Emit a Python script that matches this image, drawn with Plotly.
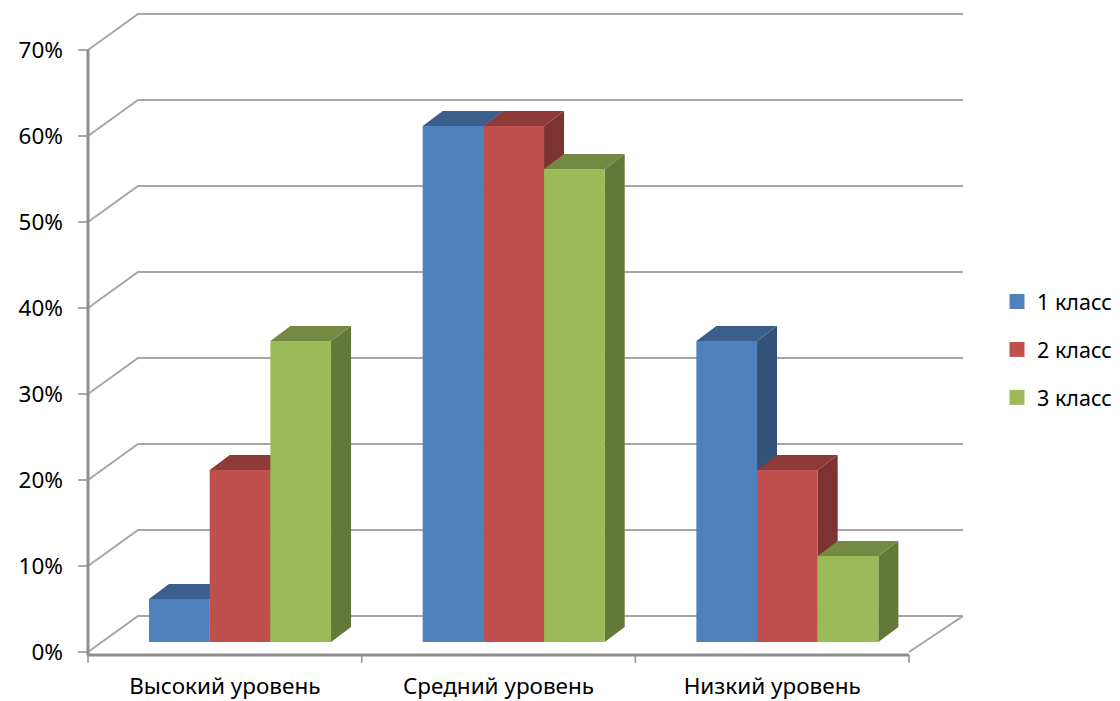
import plotly.graph_objects as go

categories = ["Высокий уровень", "Средний уровень", "Низкий уровень"]
series_names = ["1 класс", "2 класс", "3 класс"]
class1 = [5, 60, 35]
class2 = [20, 60, 20]
class3 = [35, 55, 10]
y_ticks = [0, 10, 20, 30, 40, 50, 60, 70]
y_labels = ["0%", "10%", "20%", "30%", "40%", "50%", "60%", "70%"]
front_colors = ["#4F81BD", "#C0504D", "#9BBB59"]
top_colors = ["#3B5F8C", "#8E3A38", "#728A41"]
side_colors = ["#33537A", "#7C3331", "#647839"]

series = [class1, class2, class3]

# Scale: 1 x unit = one category band, 1 y unit = one percent
PX_X = 273.67
PX_Y = 8.6
PAGE = 8  # default page margin round the figure
W, H = 1120 - PAGE, 701 - PAGE
L, R, T, B = 78 - PAGE, 963 - PAGE, 13 - PAGE, 665 - PAGE
ZERO_PX = 652 - PAGE
X0 = -0.5
x_range = [X0 - 10 / PX_X, X0 + 875 / PX_X]
y_range = [-(B - ZERO_PX) / PX_Y, (ZERO_PX - T) / PX_Y]

wall_dx, wall_dy = 50 / PX_X, 36 / PX_Y
bar_w = 60.67 / PX_X
bar_side_dx, bar_side_dy = 20 / PX_X, 15 / PX_Y
bar_base = 10 / PX_Y
group_shift = 15.2 / PX_X
grid_color = "#A6A6A6"
axis_color = "#8E8E8E"

fig = go.Figure()


def line(xs, ys, color, width):
    fig.add_trace(go.Scatter(
        x=xs, y=ys, mode="lines", line=dict(color=color, width=width),
        showlegend=False, hoverinfo="skip", cliponaxis=False))


# walls: gridlines with the diagonal return
for v in y_ticks:
    line([X0, X0 + wall_dx, x_range[1]], [v, v + wall_dy, v + wall_dy], grid_color, 2)
# floor front-right diagonal
line([2.5, x_range[1]], [0, wall_dy], grid_color, 2)
# axis lines and ticks
line([X0, X0], [-0.4, 70], axis_color, 3)
line([X0, 2.5], [-0.35, -0.35], axis_color, 3)
for b in [-0.5, 0.5, 1.5, 2.5]:
    line([b, b], [-0.35, -1.25], axis_color, 1.5)
for v in y_ticks:
    line([x_range[0], X0], [v, v], axis_color, 1.5)

# side and top faces, left to right
for c in range(len(categories)):
    for s, vals in enumerate(series):
        left = c + group_shift + (s - 1.5) * bar_w
        right = left + bar_w
        top = vals[c] + bar_base
        fig.add_trace(go.Scatter(
            x=[right, right + bar_side_dx, right + bar_side_dx, right, right],
            y=[top, top + bar_side_dy, bar_base + bar_side_dy, bar_base, top],
            mode="lines", fill="toself", fillcolor=side_colors[s],
            line=dict(width=0), showlegend=False, hoverinfo="skip"))
        fig.add_trace(go.Scatter(
            x=[left, left + bar_side_dx, right + bar_side_dx, right, left],
            y=[top, top + bar_side_dy, top + bar_side_dy, top, top],
            mode="lines", fill="toself", fillcolor=top_colors[s],
            line=dict(width=0), showlegend=False, hoverinfo="skip"))

# front faces on an overlaying subplot so they sit above the faces
for s, vals in enumerate(series):
    fig.add_trace(go.Bar(
        x=[c + group_shift + (s - 1) * bar_w for c in range(len(categories))],
        y=vals, base=bar_base, width=bar_w, name=series_names[s],
        marker=dict(color=front_colors[s], line=dict(width=0)),
        showlegend=False, xaxis="x2", yaxis="y2"))
    # legend key
    fig.add_trace(go.Scatter(
        x=[None], y=[None], mode="markers", name=series_names[s],
        legendgroup=series_names[s],
        marker=dict(symbol="square", size=15, color=front_colors[s])))

font = dict(family="'Noto Sans', sans-serif", size=22.5, color="#000000")
legend_font = dict(family="'Noto Sans', sans-serif", size=21.5, color="#000000")

fig.update_layout(
    width=W, height=H,
    margin=dict(l=L, r=W - R, t=T, b=H - B, pad=0, autoexpand=False),
    paper_bgcolor="white", plot_bgcolor="white",
    font=font, barmode="overlay",
    legend=dict(x=(997 - 78) / (R - L), y=(B - (281 - PAGE)) / (B - T), xanchor="left", yanchor="top",
                tracegroupgap=17, font=legend_font, bgcolor="rgba(0,0,0,0)", itemclick=False),
    xaxis=dict(range=x_range, tickmode="array", tickvals=[0, 1, 2], ticktext=categories,
               ticks="outside", ticklen=1, tickcolor="rgba(0,0,0,0)", showgrid=False,
               zeroline=False, showline=False, tickfont=font),
    yaxis=dict(range=y_range, tickmode="array", tickvals=y_ticks, ticktext=y_labels,
               ticks="", ticklabelstandoff=14, showgrid=False, zeroline=False, showline=False,
               tickfont=font),
    xaxis2=dict(range=x_range, overlaying="x", matches="x", visible=False),
    yaxis2=dict(range=y_range, overlaying="y", matches="y", visible=False),
)
fig.write_html("out.html")
